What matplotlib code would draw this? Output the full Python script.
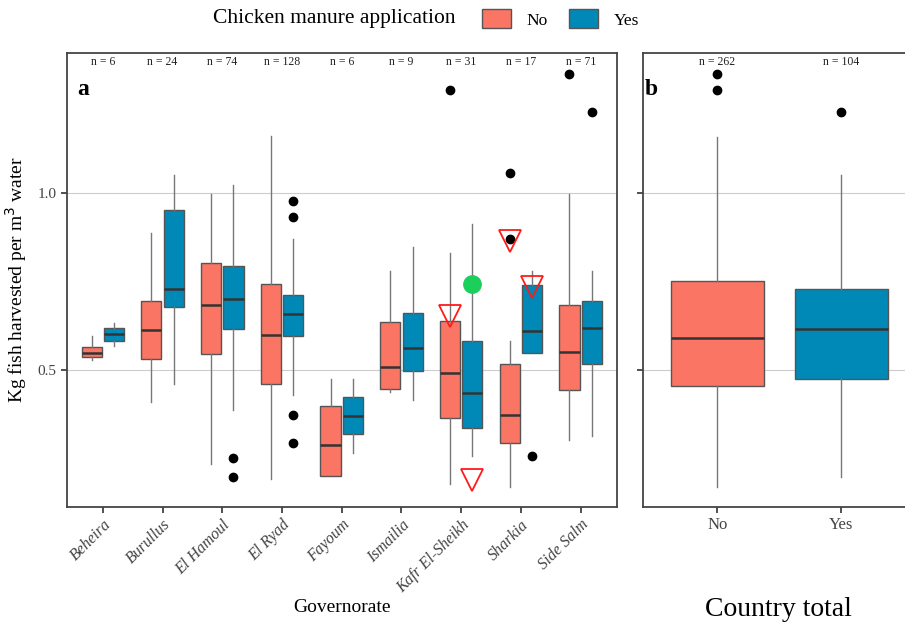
import matplotlib.pyplot as plt
from matplotlib.patches import Patch

plt.rcParams['font.family'] = ['Liberation Serif', 'DejaVu Serif']

# Data (box stats per governorate, No / Yes)
governorates = ['Beheira', 'Burullus', 'El Hamoul', 'El Ryad', 'Fayoum',
                'Ismailia', 'Kafr El-Sheikh', 'Sharkia', 'Side Salm']
n_labels = ['n = 6', 'n = 24', 'n = 74', 'n = 128', 'n = 6',
            'n = 9', 'n = 31', 'n = 17', 'n = 71']

no_whislo = [0.528, 0.408, 0.231, 0.189, 0.198, 0.437, 0.175, 0.166, 0.300]
no_q1 = [0.536, 0.529, 0.545, 0.458, 0.198, 0.444, 0.361, 0.290, 0.441]
no_med = [0.548, 0.612, 0.682, 0.597, 0.285, 0.507, 0.491, 0.370, 0.549]
no_q3 = [0.565, 0.695, 0.803, 0.743, 0.397, 0.634, 0.637, 0.517, 0.682]
no_whishi = [0.594, 0.888, 0.999, 1.163, 0.473, 0.779, 0.832, 0.580, 0.999]
no_fliers = [[], [], [], [], [], [], [1.295], [1.058, 0.872], [1.339]]

yes_whislo = [0.566, 0.458, 0.386, 0.429, 0.264, 0.414, 0.254, 0.546, 0.310]
yes_q1 = [0.582, 0.677, 0.615, 0.596, 0.316, 0.496, 0.333, 0.546, 0.515]
yes_med = [0.601, 0.729, 0.699, 0.657, 0.369, 0.561, 0.433, 0.608, 0.617]
yes_q3 = [0.617, 0.952, 0.793, 0.712, 0.422, 0.661, 0.580, 0.740, 0.694]
yes_whishi = [0.633, 1.052, 1.023, 0.871, 0.473, 0.847, 0.913, 0.781, 0.779]
yes_fliers = [[], [], [0.248, 0.194], [0.978, 0.932, 0.370, 0.290], [], [], [],
              [0.253], [1.230]]

# extra highlighted points (governorate index, group offset sign, value)
tri_gov = [6, 6, 7, 7]
tri_grp = [-1, 1, -1, 1]
tri_val = [0.652, 0.185, 0.864, 0.733]
green_gov = [6]
green_grp = [1]
green_val = [0.742]

# country totals
tot_groups = ['No', 'Yes']
tot_n = ['n = 262', 'n = 104']
tot_whislo = [0.166, 0.194]
tot_q1 = [0.453, 0.472]
tot_med = [0.589, 0.616]
tot_q3 = [0.752, 0.729]
tot_whishi = [1.161, 1.052]
tot_fliers = [[1.339, 1.295], [1.230]]

red = '#FA7564'
blue = '#0088B7'
ylim = (0.111, 1.398)


def stats(lo, q1, med, q3, hi, fl):
    return [dict(whislo=a, q1=b, med=c, q3=d, whishi=e, fliers=f)
            for a, b, c, d, e, f in zip(lo, q1, med, q3, hi, fl)]


def draw(ax, st, pos, width, color):
    ax.bxp(st, positions=pos, widths=width, patch_artist=True, showcaps=False,
           boxprops=dict(facecolor=color, edgecolor='#555555', linewidth=1.0),
           medianprops=dict(color='#333333', linewidth=1.8),
           whiskerprops=dict(color='#777777', linewidth=1.0),
           flierprops=dict(marker='o', markerfacecolor='black',
                           markeredgecolor='black', markersize=6),
           manage_ticks=False, zorder=3)


def style(ax):
    ax.set_ylim(*ylim)
    ax.set_yticks([0.5, 1.0])
    ax.grid(axis='y', color='#cccccc', linewidth=0.8, zorder=0)
    ax.set_axisbelow(True)
    for s in ax.spines.values():
        s.set_color('#444444')
        s.set_linewidth(1.3)
    ax.tick_params(axis='both', direction='out', length=4, width=1.2,
                   color='#333333', labelcolor='#444444')


fig = plt.figure(figsize=(9.05, 6.29), dpi=100)
ax1 = fig.add_axes([67 / 905, 1 - 506.5 / 629, 549.5 / 905, 453.2 / 629])
ax2 = fig.add_axes([643 / 905, 1 - 506.5 / 629, 272.5 / 905, 453.2 / 629])

x = list(range(len(governorates)))
off = 0.1875
draw(ax1, stats(no_whislo, no_q1, no_med, no_q3, no_whishi, no_fliers),
     [i - off for i in x], 0.3375, red)
draw(ax1, stats(yes_whislo, yes_q1, yes_med, yes_q3, yes_whishi, yes_fliers),
     [i + off for i in x], 0.3375, blue)

ax1.plot([tri_gov[i] + tri_grp[i] * off for i in range(len(tri_gov))], tri_val,
         linestyle='none', marker='v', markersize=16, markerfacecolor='none',
         markeredgecolor='#ff1a1a', markeredgewidth=1.3, zorder=5)
ax1.plot([green_gov[i] + green_grp[i] * off for i in range(len(green_gov))],
         green_val, linestyle='none', marker='o', markersize=12.5,
         markerfacecolor='#1ccf5a', markeredgecolor='#1ccf5a', zorder=5)

for i, lab in enumerate(n_labels):
    ax1.text(i, 1.372, lab, ha='center', va='center', fontsize=8.5,
             color='#222222')
ax1.text(0.03, 0.92, 'a', transform=ax1.transAxes, fontsize=17,
         fontweight='bold', ha='center', va='center')

ax1.set_xlim(-0.6, len(governorates) - 0.4)
ax1.set_xticks(x)
ax1.set_xticklabels(governorates, rotation=45, ha='right',
                    rotation_mode='anchor', fontstyle='italic', fontsize=11.5)
style(ax1)
ax1.set_yticklabels(['0.5', '1.0'], fontsize=11)
ax1.set_ylabel('Kg fish harvested per m$^3$ water', fontsize=14, labelpad=6)
fig.text(342 / 905, 1 - 608 / 629, 'Governorate', ha='center',
         va='center', fontsize=14)

xt = list(range(len(tot_groups)))
draw(ax2, stats(tot_whislo, tot_q1, tot_med, tot_q3, tot_whishi, tot_fliers),
     xt, 0.75, red)
ax2.patches[1].set_facecolor(blue)
for i, lab in enumerate(tot_n):
    ax2.text(i, 1.372, lab, ha='center', va='center', fontsize=8.5,
             color='#222222')
ax2.text(0.03, 0.92, 'b', transform=ax2.transAxes, fontsize=17,
         fontweight='bold', ha='center', va='center')
ax2.set_xlim(-0.6, 1.6)
ax2.set_xticks(xt)
ax2.set_xticklabels(tot_groups, fontsize=12, color='#222222')
style(ax2)
ax2.set_yticklabels([])
fig.text(778 / 905, 1 - 609 / 629, 'Country total', ha='center',
         va='center', fontsize=20)

fig.text(213 / 905, 1 - 19 / 629, 'Chicken manure application',
         ha='left', va='center', fontsize=15.5)
handles = [Patch(facecolor=red, edgecolor='#555555', label='No'),
           Patch(facecolor=blue, edgecolor='#555555', label='Yes')]
fig.legend(handles=handles, loc='center left', ncol=2, frameon=False,
           bbox_to_anchor=(466 / 905, 1 - 19 / 629), fontsize=12.5,
           handlelength=1.7, handleheight=1.3, columnspacing=1.2,
           handletextpad=0.9)

fig.savefig('out.png', dpi=100)
